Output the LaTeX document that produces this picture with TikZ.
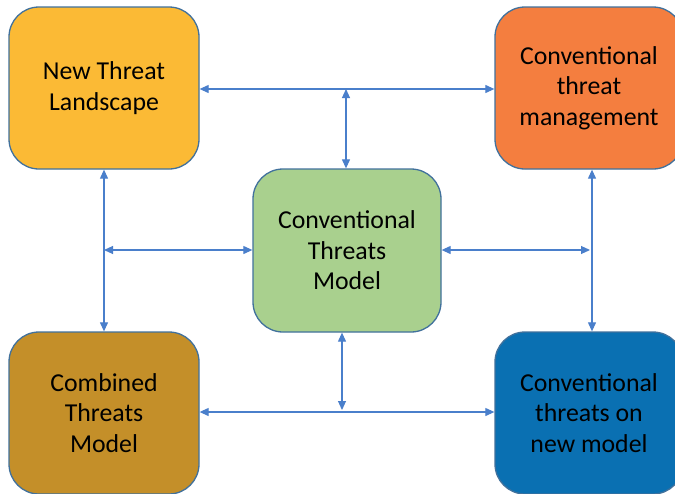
\documentclass[tikz,border=0pt]{standalone}
\usepackage{fontspec}
\setmainfont{Carlito}
\usetikzlibrary{arrows.meta}
\definecolor{edgeblue}{HTML}{41719C}
\definecolor{linkblue}{HTML}{4A7FCB}
\definecolor{fillyellow}{HTML}{FBBA35}
\definecolor{fillorange}{HTML}{F47E3F}
\definecolor{fillgreen}{HTML}{A9D08E}
\definecolor{fillbrown}{HTML}{C48F29}
\definecolor{fillblue}{HTML}{0A70B2}
\tikzset{
  card/.style={draw=edgeblue, line width=1.3pt, rounded corners=30pt,
    minimum width=190pt, minimum height=162pt, inner sep=0pt, align=center,
    font=\fontsize{25.8}{30.5}\selectfont},
  link/.style={draw=linkblue, line width=1.1pt,
    {Triangle[length=9pt,width=8pt]}-{Triangle[length=9pt,width=8pt]}}
}
\begin{document}
\begin{tikzpicture}[x=1pt, y=-1pt]
  \clip (0,0) rectangle (675,493);
  \fill[white] (0,0) rectangle (675,493);

  \node[card, fill=fillyellow] (ntl) at (104,88) {New Threat\\Landscape};
  \node[card, fill=fillorange, minimum width=188pt] (ctm) at (589,88) {Conventional\\threat\\management};
  \node[card, fill=fillgreen, minimum width=188pt, minimum height=163pt] (mid) at (347,250.5) {Conventional\\Threats\\Model};
  \node[card, fill=fillbrown] (comb) at (104,413) {Combined\\Threats\\Model};
  \node[card, fill=fillblue, minimum width=188pt] (cnm) at (589,413) {Conventional\\threats on\\new model};

  % junction points on the long connectors
  \coordinate (topj) at (346,89);
  \coordinate (leftj) at (104,250);
  \coordinate (rightj) at (590,250);
  \coordinate (botj) at (342,410);

  % top row and bottom row
  \draw[link] (ntl.east |- topj) -- (ctm.west |- topj);
  \draw[link] (comb.east |- 0,412) -- (cnm.west |- 0,412);
  % side columns
  \draw[link] (ntl.south -| leftj) -- (comb.north -| leftj);
  \draw[link] (ctm.south -| 592,0) -- (cnm.north -| 592,0);
  % centre box to the other connectors
  \draw[link] (topj) -- (mid.north -| topj);
  \draw[link] (leftj) -- (mid.west |- leftj);
  \draw[link] (rightj) -- (mid.east |- rightj);
  \draw[link] (botj) -- (mid.south -| botj);
\end{tikzpicture}
\end{document}
